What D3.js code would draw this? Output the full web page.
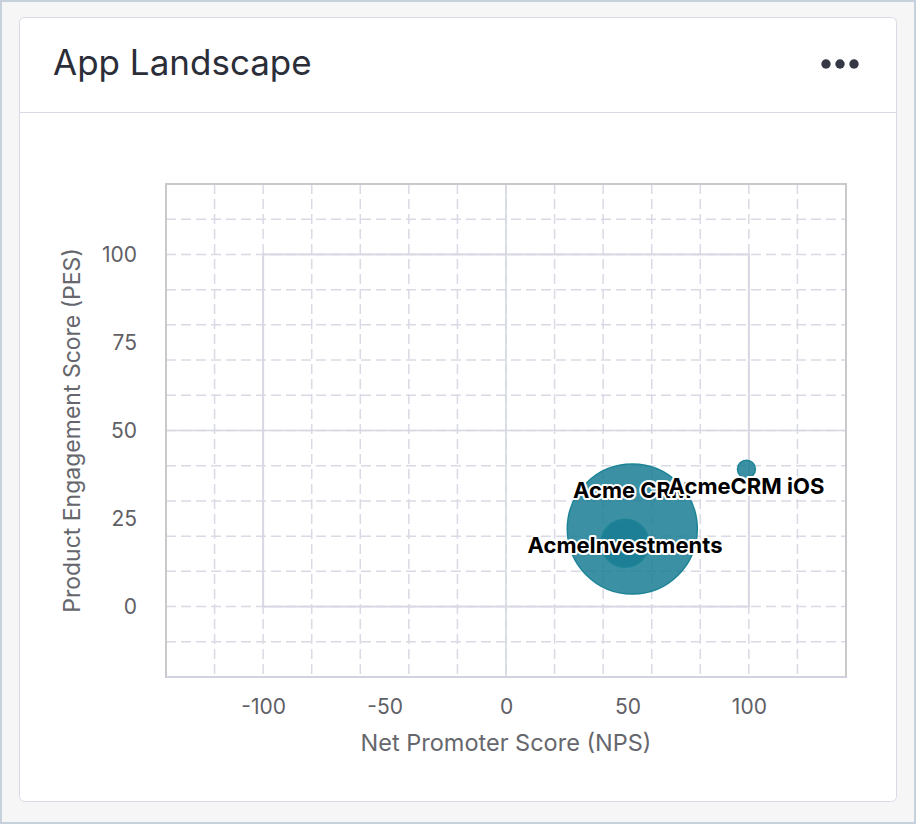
<!DOCTYPE html>
<html>
<head>
<meta charset="utf-8">
<script src="https://cdn.jsdelivr.net/npm/d3@7"></script>
<style>
  html, body { margin: 0; padding: 0; background: #f6f6f7; }
  svg { display: block; }
</style>
</head>
<body>
<script>
// chart data
var apps = ['Acme CRM', 'AcmeCRM iOS', 'AcmeInvestments'];
var nps = [52, 99, 49];        // Net Promoter Score
var pes = [22, 39, 18];        // Product Engagement Score
var users = [4200, 80, 570];   // bubble size
var xTicks = [-100, -50, 0, 50, 100];
var yTicks = [0, 25, 50, 75, 100];

var W = 916, H = 824;
var font = 'Inter, "Noto Sans", sans-serif';

var svg = d3.select('body').append('svg')
	.attr('width', W)
	.attr('height', H);

// page + card
svg.append('rect')
	.attr('x', 1).attr('y', 1)
	.attr('width', W - 2).attr('height', H - 2)
	.attr('fill', '#f6f6f7')
	.attr('stroke', '#c6d1db')
	.attr('stroke-width', 2);

svg.append('rect')
	.attr('x', 19.5).attr('y', 17.5)
	.attr('width', 877).attr('height', 784)
	.attr('rx', 5)
	.attr('fill', '#fff')
	.attr('stroke', '#d8dbe5');

svg.append('line')
	.attr('x1', 20).attr('x2', 896)
	.attr('y1', 112.5).attr('y2', 112.5)
	.attr('stroke', '#d8dbe5');

svg.append('text')
	.attr('x', 53).attr('y', 75)
	.attr('font-family', font)
	.attr('font-size', 35)
	.attr('fill', '#2b2e39')
	.text('App Landscape');

svg.append('g').selectAll('circle')
	.data([826, 840, 854])
	.enter().append('circle')
		.attr('cx', function(d) { return d; })
		.attr('cy', 64)
		.attr('r', 4.7)
		.attr('fill', '#363945');

// plot area
var m = { left: 166, right: 846, top: 184, bottom: 677 };

var x = d3.scaleLinear().domain([-140, 140]).range([m.left, m.right]);
var y = d3.scaleLinear().domain([-20, 120]).range([m.bottom, m.top]);
var r = d3.scaleSqrt().domain([0, d3.max(users)]).range([0, 65]);

var plot = svg.append('g');

var gridColor = '#d9dae5';

// dashed grid
plot.append('g').selectAll('line')
	.data(d3.range(-120, 121, 20))
	.enter().append('line')
		.attr('x1', function(d) { return x(d); })
		.attr('x2', function(d) { return x(d); })
		.attr('y1', m.top).attr('y2', m.bottom)
		.attr('stroke', gridColor)
		.attr('stroke-width', 1.5)
		.attr('stroke-dasharray', '10,5');

plot.append('g').selectAll('line')
	.data(d3.range(-10, 111, 10))
	.enter().append('line')
		.attr('x1', m.left).attr('x2', m.right)
		.attr('y1', function(d) { return y(d); })
		.attr('y2', function(d) { return y(d); })
		.attr('stroke', gridColor)
		.attr('stroke-width', 1.5)
		.attr('stroke-dasharray', '10,5');

// quadrant lines
plot.append('line')
	.attr('x1', x(0)).attr('x2', x(0))
	.attr('y1', m.top).attr('y2', m.bottom)
	.attr('stroke', '#d5d7e2').attr('stroke-width', 1.5);

plot.append('line')
	.attr('x1', m.left).attr('x2', m.right)
	.attr('y1', y(50)).attr('y2', y(50))
	.attr('stroke', '#d5d7e2').attr('stroke-width', 1.5);

plot.append('rect')
	.attr('x', x(-100)).attr('y', y(100))
	.attr('width', x(100) - x(-100))
	.attr('height', y(0) - y(100))
	.attr('fill', 'none')
	.attr('stroke', '#d7d8e4')
	.attr('stroke-width', 2);

// frame
plot.append('rect')
	.attr('x', m.left).attr('y', m.top)
	.attr('width', m.right - m.left).attr('height', m.bottom - m.top)
	.attr('fill', 'none')
	.attr('stroke', '#c9c9cc')
	.attr('stroke-width', 2);

plot.append('line')
	.attr('x1', m.left).attr('x2', m.right)
	.attr('y1', m.bottom).attr('y2', m.bottom)
	.attr('stroke', '#d0d3df').attr('stroke-width', 2);

// axes (plain hyphen for negatives, like the original)
var fmt = function(d) { return String(d); };

var xAxis = plot.append('g')
	.attr('transform', 'translate(0,' + m.bottom + ')')
	.call(d3.axisBottom(x).tickValues(xTicks).tickFormat(fmt).tickSize(0).tickPadding(22));

var yAxis = plot.append('g')
	.attr('transform', 'translate(' + m.left + ',0)')
	.call(d3.axisLeft(y).tickValues(yTicks).tickFormat(fmt).tickSize(0).tickPadding(29));

[xAxis, yAxis].forEach(function(g) {
	g.select('.domain').remove();
	g.selectAll('text')
		.attr('font-family', font)
		.attr('font-size', 21)
		.attr('fill', '#5f6066');
});

svg.append('text')
	.attr('x', x(0)).attr('y', 751)
	.attr('text-anchor', 'middle')
	.attr('font-family', font)
	.attr('font-size', 23.5)
	.attr('fill', '#66676d')
	.text('Net Promoter Score (NPS)');

svg.append('text')
	.attr('transform', 'translate(80,' + ((m.top + m.bottom) / 2) + ')rotate(-90)')
	.attr('text-anchor', 'middle')
	.attr('font-family', font)
	.attr('font-size', 23)
	.attr('fill', '#66676d')
	.text('Product Engagement Score (PES)');

// bubbles
var data = apps.map(function(name, i) {
	return { name: name, nps: nps[i], pes: pes[i], users: users[i] };
});

plot.append('g').selectAll('circle')
	.data(data)
	.enter().append('circle')
		.attr('cx', function(d) { return x(d.nps); })
		.attr('cy', function(d) { return y(d.pes); })
		.attr('r', function(d) { return r(d.users); })
		.attr('fill', '#197d94')
		.attr('fill-opacity', 0.85)
		.attr('stroke', '#1d8497')
		.attr('stroke-width', 1.5);

// labels sit just inside the top of each bubble
plot.append('g').selectAll('text')
	.data(data)
	.enter().append('text')
		.attr('x', function(d) { return x(d.nps); })
		.attr('y', function(d) { return y(d.pes) - r(d.users) + 34; })
		.attr('text-anchor', 'middle')
		.attr('font-family', font)
		.attr('font-size', 22)
		.attr('font-weight', 700)
		.attr('fill', '#000')
		.attr('stroke', '#fff')
		.attr('stroke-width', 4)
		.attr('stroke-linejoin', 'round')
		.attr('paint-order', 'stroke')
		.text(function(d) { return d.name; });
</script>
</body>
</html>
